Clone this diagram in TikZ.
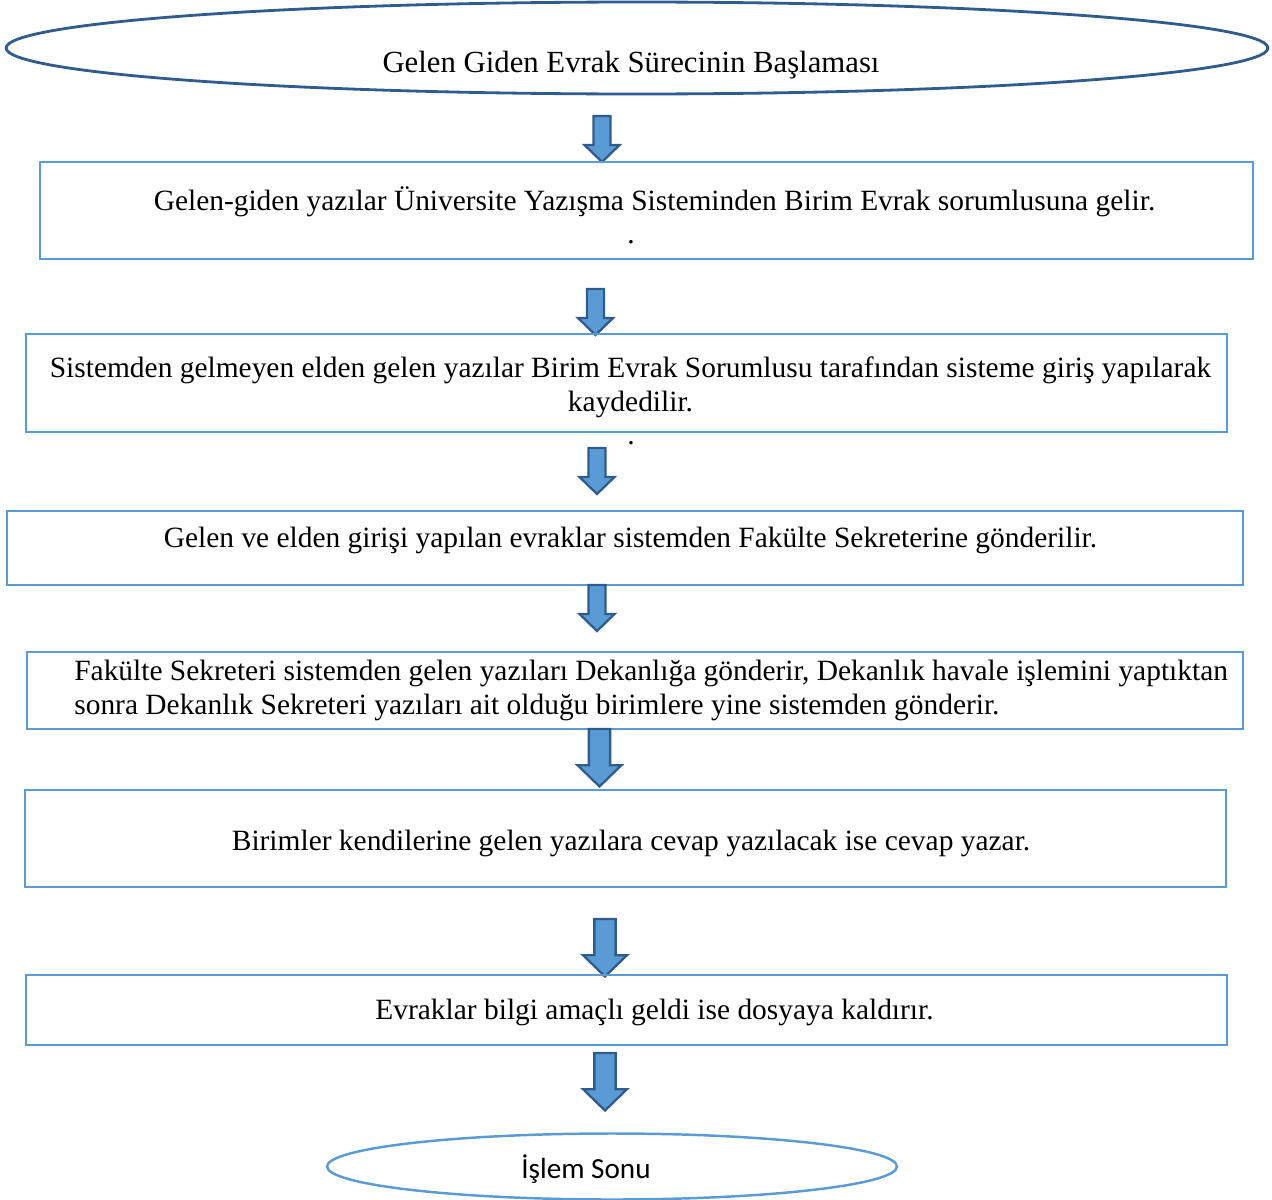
\documentclass[tikz,border=0pt]{standalone}
\usepackage{fontspec}
\setmainfont{Liberation Serif}
\newfontfamily\calibrifont{Carlito}
\usetikzlibrary{
  positioning,
  shapes.geometric
}
\definecolor{evBlue}{HTML}{5B9BD5}
\definecolor{evBlueD}{HTML}{2F5C8C}

\begin{document}
\begin{tikzpicture}[
  x=0.02cm, y=-0.02cm,
  every node/.style={font=\fontsize{16.75}{19.3}\selectfont, align=center, inner sep=0pt},
  start/.style={
    ellipse, draw=evBlueD, line width=1.6pt,
    minimum width=25.24cm, minimum height=1.84cm
  },
  finish/.style={
    ellipse, draw=evBlue, line width=1.4pt,
    minimum width=11.4cm, minimum height=1.32cm
  },
  procbox/.style={rectangle, draw=evBlue, line width=1.4pt},
  downarr/.pic={
    \draw[draw=evBlueD, fill=evBlue, line width=1.3pt]
      (-8.5,0) -- (8.5,0) -- (8.5,29) -- (17.5,29) -- (0,46)
      -- (-17.5,29) -- (-8.5,29) -- cycle;
  }
]
 \useasboundingbox (0,0) rectangle (1272,1200);

 % Start
 \node[start] (s) at (637,48) {};
 \node[anchor=base, font=\fontsize{17.5}{20}\selectfont] (s-t) at (631,72) {Gelen Giden Evrak Sürecinin Başlaması};
 \pic at (602,116) {downarr};

 % Step 1
 \node[procbox, minimum width=24.26cm, minimum height=1.94cm] (b1) at (646.5,210.5) {};
 \node[anchor=base] (b1-t) at (654.5,210) {Gelen-giden yazılar Üniversite Yazışma Sisteminden Birim Evrak sorumlusuna gelir.};
 \node[anchor=base] (b1-d) at (631,243) {.};
 \pic at (595.5,289) {downarr};

 % Step 2
 \node[procbox, minimum width=24.02cm, minimum height=1.96cm] (b2) at (626.5,383) {};
 \node (b2-t) at (630.5,387.5) {Sistemden gelmeyen elden gelen yazılar Birim Evrak Sorumlusu tarafından sisteme giriş yapılarak\\kaydedilir.};
 \node[anchor=base] (b2-d) at (631,444) {.};
 \pic at (597,448) {downarr};

 % Step 3
 \node[procbox, minimum width=24.72cm, minimum height=1.48cm] (b3) at (625,548) {};
 \node[anchor=base] (b3-t) at (630.5,547) {Gelen ve elden girişi yapılan evraklar sistemden Fakülte Sekreterine gönderilir.};
 \pic at (597,585) {downarr};

 % Step 4
 \node[procbox, minimum width=24.32cm, minimum height=1.54cm] (b4) at (635,690.5) {};
 \node[anchor=west, align=left] (b4-t) at (74,690.5) {Fakülte Sekreteri sistemden gelen yazıları Dekanlığa gönderir, Dekanlık havale işlemini yaptıktan\\sonra Dekanlık Sekreteri yazıları ait olduğu birimlere yine sistemden gönderir.};
 \pic[scale=1.25] at (599.5,729) {downarr};

 % Step 5
 \node[procbox, minimum width=24.02cm, minimum height=1.94cm] (b5) at (625.5,838.5) {};
 \node[anchor=base] (b5-t) at (631,850) {Birimler kendilerine gelen yazılara cevap yazılacak ise cevap yazar.};
 \pic[scale=1.25] at (605,919) {downarr};

 % Step 6
 \node[procbox, minimum width=24.02cm, minimum height=1.40cm] (b6) at (626.5,1010) {};
 \node[anchor=base] (b6-t) at (654.5,1019) {Evraklar bilgi amaçlı geldi ise dosyaya kaldırır.};
 \pic[scale=1.25] at (605,1053) {downarr};

 % End
 \node[finish] (e) at (612,1166.5) {};
 \node[anchor=base, font=\calibrifont\fontsize{16.6}{20}\selectfont] (e-t) at (586,1178) {İşlem Sonu};
\end{tikzpicture}
\end{document}
